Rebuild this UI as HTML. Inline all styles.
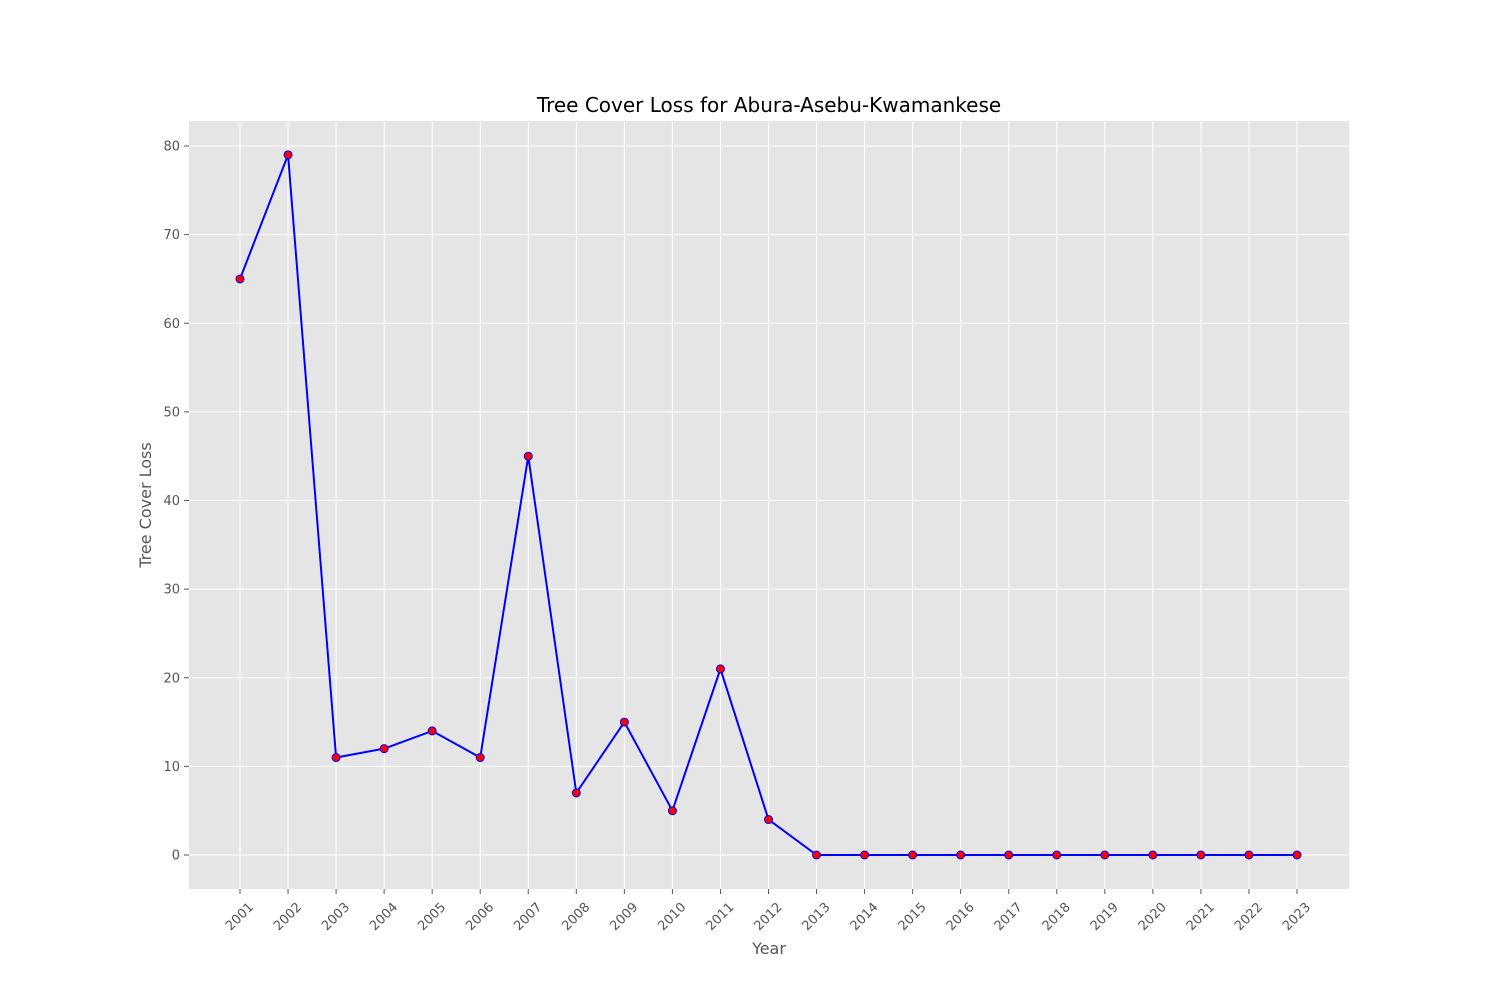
<!DOCTYPE html>
<html><head><meta charset="utf-8"><style>
body{margin:0;background:#fff;}
svg{display:block;font-family:"DejaVu Sans","Liberation Sans",sans-serif;}
</style></head><body>
<svg id="chart" width="1500" height="1000">
<rect x="189" y="121" width="1160" height="768" fill="#e5e5e5"/>
<g id="grid"></g>
<g id="xticks"></g>
<g id="yticks"></g>
<g id="series"></g>
<text x="769" y="112" text-anchor="middle" font-size="20" fill="#000">Tree Cover Loss for Abura-Asebu-Kwamankese</text>
<text x="769" y="954" text-anchor="middle" font-size="16" fill="#555">Year</text>
<text x="151" y="505" text-anchor="middle" font-size="16" fill="#555" transform="rotate(-90 151 505)">Tree Cover Loss</text>
</svg>
<script>
const years = [2001,2002,2003,2004,2005,2006,2007,2008,2009,2010,2011,2012,2013,2014,2015,2016,2017,2018,2019,2020,2021,2022,2023];
const loss = [65,79,11,12,14,11,45,7,15,5,21,4,0,0,0,0,0,0,0,0,0,0,0];
const yTicks = [0,10,20,30,40,50,60,70,80];
const NS="http://www.w3.org/2000/svg";
const L=189,R=1349,T=121,B=889;
const xs=v=>240+(v-2001)*(1297-240)/22;
const ys=v=>855-v*(855-146)/80;
function mk(tag,attrs,parent){const e=document.createElementNS(NS,tag);for(const k in attrs)e.setAttribute(k,attrs[k]);parent.appendChild(e);return e;}
const grid=document.getElementById('grid'),xt=document.getElementById('xticks'),yt=document.getElementById('yticks'),ser=document.getElementById('series');
years.forEach(y=>{
  const x=xs(y);
  const g=mk('line',{x1:x,x2:x,y1:T,y2:B,stroke:'#fff','stroke-width':1},grid);
  
  
  mk('line',{x1:x,x2:x,y1:B,y2:B+5,stroke:'#555'},xt);
  const cy=B+28;
  const t=mk('text',{x:x,y:cy,'text-anchor':'middle','dominant-baseline':'central','font-size':13,fill:'#555',transform:`rotate(-45 ${x} ${cy})`},xt);
  t.textContent=y;
  
  
});
yTicks.forEach(v=>{
  const y=ys(v);
  const g=mk('line',{x1:L,x2:R,y1:y,y2:y,stroke:'#fff','stroke-width':1},grid);
  
  
  mk('line',{x1:L-5,x2:L,y1:y,y2:y,stroke:'#555'},yt);
  const t=mk('text',{x:L-9,y:y+4.5,'text-anchor':'end','font-size':13,fill:'#555'},yt);
  t.textContent=v;
  
  
});
const pts=years.map((y,i)=>xs(y)+','+ys(loss[i])).join(' ');
const pl=mk('polyline',{points:pts,fill:'none',stroke:'#0000ff','stroke-width':2},ser);


years.forEach((y,i)=>{
  const c=mk('circle',{cx:xs(y),cy:ys(loss[i]),r:4,fill:'#ff0000',stroke:'#0000ff','stroke-width':1},ser);
  
  
});
</script>
</body></html>
